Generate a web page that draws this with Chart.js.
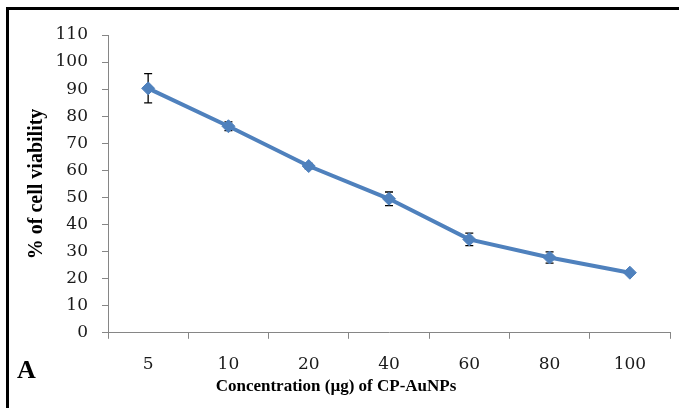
<!DOCTYPE html>
<html>
<head>
<meta charset="utf-8">
<script src="https://cdn.jsdelivr.net/npm/chart.js@4.4.1/dist/chart.umd.min.js"></script>
<style>
  body { margin: 0; background: #fff; }
  #wrap { position: relative; width: 679px; height: 408px; overflow: hidden; }
  #frame { position: absolute; left: 6px; top: 7px; width: 700px; height: 420px;
           border-top: 3px solid #000; border-left: 3px solid #000; }
  #panel { position: absolute; left: 17px; top: 355px; font: bold 26px "Liberation Serif"; color: #000; }
  canvas { position: absolute; left: 0; top: 0; }
</style>
</head>
<body>
<div id="wrap">
  <div id="frame"></div>
  <canvas id="linea" width="679" height="408"></canvas>
  <div id="panel">A</div>
</div>
<script>
var concentrations = ['5', '10', '20', '40', '60', '80', '100'];
var viability = [90.3, 76.3, 61.6, 49.5, 34.5, 27.8, 22.2];
var errors = [5.4, 1.6, 1.0, 2.5, 2.3, 2.1, 0.6];

var axisGrey = '#868686';
var blue = '#4F81BD';

// error bars drawn through the chart scales
var errorBars = {
  id: 'errorBars',
  beforeDatasetsDraw: function(chart) {
    var ctx = chart.ctx;
    var xs = chart.scales.x, ys = chart.scales.y;
    ctx.save();
    ctx.strokeStyle = '#000';
    ctx.lineWidth = 1.3;
    for (var i = 0; i < viability.length; i++) {
      var x = xs.getPixelForValue(i);
      var top = ys.getPixelForValue(viability[i] + errors[i]);
      var bot = ys.getPixelForValue(viability[i] - errors[i]);
      ctx.beginPath();
      ctx.moveTo(x, top); ctx.lineTo(x, bot);
      ctx.moveTo(x - 4, top); ctx.lineTo(x + 4, top);
      ctx.moveTo(x - 4, bot); ctx.lineTo(x + 4, bot);
      ctx.stroke();
    }
    ctx.restore();
  }
};

var ctx = document.getElementById('linea');
var myChart = new Chart(ctx, {
  type: 'line',
  data: {
    labels: concentrations,
    datasets: [{
      label: 'viability',
      data: viability,
      borderColor: blue,
      backgroundColor: blue,
      borderWidth: 4,
      pointStyle: 'rectRot',
      pointRadius: 6.5,
      pointBorderWidth: 1,
      tension: 0
    }]
  },
  options: {
    responsive: false,
    animation: false,
    devicePixelRatio: 1,
    layout: { padding: { left: 2, right: 9, top: 35, bottom: 0 } },
    plugins: {
      legend: { display: false },
      tooltip: { enabled: false },
      title: {
        display: true,
        position: 'bottom',
        text: 'Concentration (µg) of CP-AuNPs',
        color: '#000',
        font: { family: 'Liberation Serif', size: 17, weight: 'bold' },
        padding: { top: 0, bottom: 10.8 }
      }
    },
    scales: {
      x: {
        offset: true,
        border: { color: axisGrey, width: 1 },
        grid: { offset: true, drawOnChartArea: false, drawTicks: true, tickLength: 6, tickColor: axisGrey },
        ticks: { color: '#1a1a1a', padding: 16, font: { family: 'DejaVu Serif', size: 17 } },
        afterFit: function(scale) { scale.height = 44; }
      },
      y: {
        min: 0,
        max: 110,
        border: { color: axisGrey, width: 1 },
        grid: { drawOnChartArea: false, drawTicks: true, tickLength: 6, tickColor: axisGrey },
        ticks: { stepSize: 10, color: '#1a1a1a', padding: 14, font: { family: 'DejaVu Serif', size: 17 } },
        title: {
          display: true,
          text: '% of cell viability',
          color: '#000',
          font: { family: 'Liberation Serif', size: 20, weight: 'bold' },
          padding: { top: 22.5, bottom: 0 }
        },
        afterFit: function(scale) { scale.width = 106; }
      }
    }
  },
  plugins: [errorBars]
});
</script>
</body>
</html>
